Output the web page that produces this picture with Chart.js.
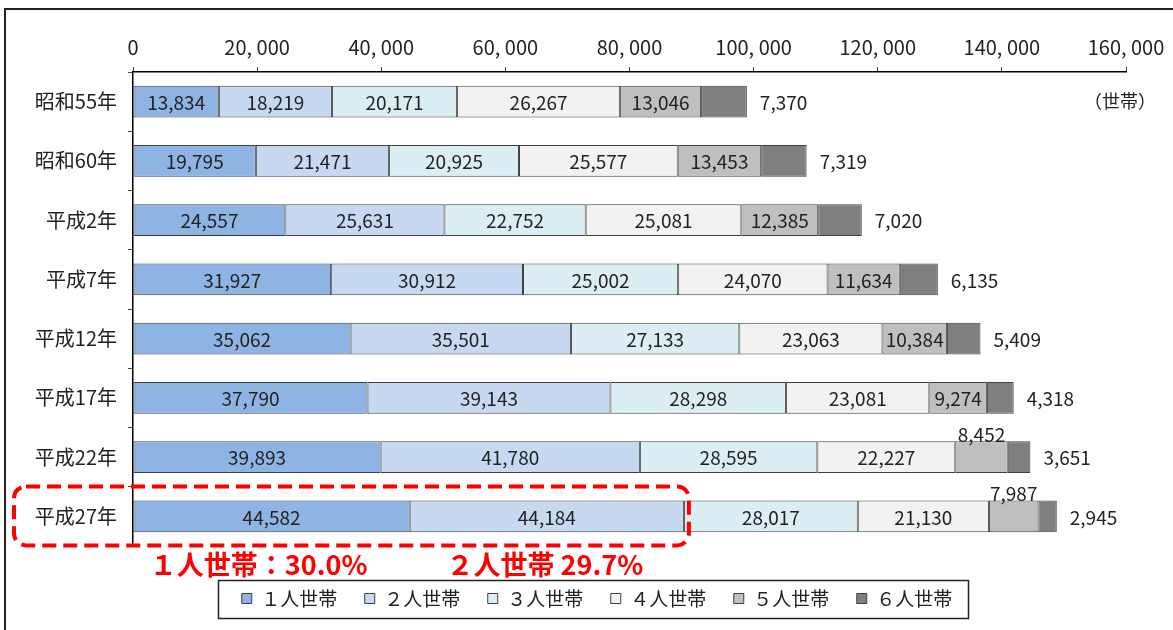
<!DOCTYPE html>
<html lang="ja">
<head>
<meta charset="utf-8">
<title>世帯人員別世帯数の推移</title>
<script src="https://cdn.jsdelivr.net/npm/chart.js@4.4.1/dist/chart.umd.min.js"></script>
<style>
  html, body { margin: 0; padding: 0; background: #fff; }
  #wrap { width: 1173px; height: 630px; }
</style>
</head>
<body>
<div id="wrap"><canvas id="householdChart" width="1173" height="630"></canvas></div>
<script>
// data
const years = ['昭和55年', '昭和60年', '平成2年', '平成7年', '平成12年', '平成17年', '平成22年', '平成27年'];
const seriesNames = ['１人世帯', '２人世帯', '３人世帯', '４人世帯', '５人世帯', '６人世帯'];
const onePerson = [13834, 19795, 24557, 31927, 35062, 37790, 39893, 44582];
const twoPerson = [18219, 21471, 25631, 30912, 35501, 39143, 41780, 44184];
const threePerson = [20171, 20925, 22752, 25002, 27133, 28298, 28595, 28017];
const fourPerson = [26267, 25577, 25081, 24070, 23063, 23081, 22227, 21130];
const fivePerson = [13046, 13453, 12385, 11634, 10384, 9274, 8452, 7987];
const sixPerson = [7370, 7319, 7020, 6135, 5409, 4318, 3651, 2945];
const xMax = 160000;
const xStep = 20000;
const unitLabel = '（世帯）';

const FONT = "'Noto Sans CJK JP', 'Noto Sans', sans-serif";
const colors = ['#8EB4E3', '#C6D9F1', '#DBEEF4', '#F2F2F2', '#BFBFBF', '#7F7F7F'];
const allSeries = [onePerson, twoPerson, threePerson, fourPerson, fivePerson, sixPerson];

function fmt(v) {
  return v.toLocaleString('en-US');
}

// value labels on / beside the bars
const barLabels = {
  id: 'barLabels',
  afterDatasetsDraw(chart) {
    const ctx = chart.ctx;
    ctx.save();
    ctx.font = '19px ' + FONT;
    ctx.fillStyle = '#222';
    const last = chart.data.datasets.length - 1;
    chart.data.datasets.forEach((ds, i) => {
      const meta = chart.getDatasetMeta(i);
      meta.data.forEach((bar, j) => {
        const v = ds.data[j];
        const p = bar.getProps(['x', 'y', 'base', 'height'], true);
        const text = fmt(v);
        if (i === last) {
          ctx.textAlign = 'left';
          ctx.textBaseline = 'middle';
          ctx.fillText(text, p.x + 13, p.y + 1);
        } else if (v < 9000) {
          // too narrow, put it above the segment
          ctx.textAlign = 'center';
          ctx.textBaseline = 'bottom';
          ctx.fillText(text, (p.x + p.base) / 2, p.y - p.height / 2 + 3);
        } else {
          ctx.textAlign = 'center';
          ctx.textBaseline = 'middle';
          ctx.fillText(text, (p.x + p.base) / 2, p.y + 1);
        }
      });
    });
    ctx.restore();
  }
};

// move the legend a bit right of the canvas centre, like the original
const legendShift = {
  id: 'legendShift',
  afterLayout(chart) {
    chart.legend.left += 34;
    chart.legend.right += 34;
  }
};

// frame, unit text, legend border and the red highlight
const decorations = {
  id: 'decorations',
  afterDraw(chart) {
    const ctx = chart.ctx;
    ctx.save();

    // outer frame (left and top edges)
    ctx.strokeStyle = '#222';
    ctx.lineWidth = 2;
    ctx.beginPath();
    ctx.moveTo(5, 630);
    ctx.lineTo(5, 9);
    ctx.lineTo(1173, 9);
    ctx.stroke();

    // unit
    const firstRow = chart.getDatasetMeta(0).data[0];
    ctx.font = '18px ' + FONT;
    ctx.fillStyle = '#222';
    ctx.textAlign = 'right';
    ctx.textBaseline = 'middle';
    ctx.fillText(unitLabel, 1156, firstRow.y);

    // legend border
    const boxes = chart.legend.legendHitBoxes;
    if (boxes && boxes.length) {
      const l = Math.min(...boxes.map(b => b.left)) - 24;
      const r = Math.max(...boxes.map(b => b.left + b.width)) + 15;
      const t = boxes[0].top - 9.5;
      const h = boxes[0].height + 19;
      ctx.strokeStyle = '#222';
      ctx.lineWidth = 1.5;
      ctx.strokeRect(Math.round(l) + 0.5, Math.round(t) + 0.5, Math.round(r - l), Math.round(h));
    }

    // red dashed box around the latest year's 1- and 2-person segments
    const lastIdx = years.length - 1;
    const seg1 = chart.getDatasetMeta(0).data[lastIdx];
    const seg2 = chart.getDatasetMeta(1).data[lastIdx];
    const top = seg2.y - 30;
    const bottom = seg2.y + 29;
    const left = 14;
    const right = seg2.x + 5;
    ctx.strokeStyle = '#FF0000';
    ctx.lineWidth = 4;
    ctx.setLineDash([14, 7]);
    ctx.beginPath();
    ctx.roundRect(left, top, right - left, bottom - top, 12);
    ctx.stroke();
    ctx.setLineDash([]);

    // share of total
    const total = allSeries.reduce((s, arr) => s + arr[lastIdx], 0);
    const share1 = (onePerson[lastIdx] / total * 100).toFixed(1);
    const share2 = (twoPerson[lastIdx] / total * 100).toFixed(1);
    ctx.font = 'bold 27px ' + FONT;
    ctx.fillStyle = '#FF0000';
    ctx.textAlign = 'center';
    ctx.textBaseline = 'middle';
    ctx.fillText('１人世帯：' + share1 + '%', (seg1.base + seg1.x) / 2 - 13, bottom + 19);
    ctx.fillText('２人世帯 ' + share2 + '%', (seg2.base + seg2.x) / 2 - 2, bottom + 19);

    ctx.restore();
  }
};

const ctx = document.getElementById('householdChart').getContext('2d');
const householdChart = new Chart(ctx, {
  type: 'bar',
  data: {
    labels: years,
    datasets: allSeries.map((arr, i) => ({
      label: seriesNames[i],
      data: arr,
      backgroundColor: colors[i],
      borderColor: '#404040',
      borderWidth: 1,
      borderSkipped: false,
      categoryPercentage: 1,
      barPercentage: 0.54
    }))
  },
  options: {
    indexAxis: 'y',
    responsive: false,
    animation: false,
    layout: {
      padding: { left: 0, right: 47, top: 12, bottom: 12 }
    },
    plugins: {
      legend: {
        position: 'bottom',
        title: {
          display: true,
          text: ' ',
          font: { size: 10 },
          padding: { top: 3.5, bottom: 0 }
        },
        labels: {
          font: { family: FONT, size: 19 },
          color: '#222',
          boxWidth: 10,
          boxHeight: 10,
          padding: 27.5
        }
      },
      tooltip: { enabled: false }
    },
    scales: {
      x: {
        position: 'top',
        stacked: true,
        min: 0,
        max: xMax,
        afterFit(scale) { scale.height = 60; },
        ticks: {
          stepSize: xStep,
          padding: 8,
          color: '#222',
          font: { family: FONT, size: 20 },
          callback: v => fmt(v).replace(/,/g, ', ')
        },
        grid: {
          drawOnChartArea: false,
          drawTicks: true,
          tickLength: 5,
          color: '#444'
        },
        border: { color: '#000', width: 1.5 }
      },
      y: {
        stacked: true,
        afterFit(scale) { scale.width = 133; },
        ticks: {
          padding: 11,
          color: '#222',
          font: { family: FONT, size: 20 }
        },
        grid: {
          offset: true,
          drawOnChartArea: false,
          drawTicks: true,
          tickLength: 5,
          color: '#444'
        },
        border: { color: '#000', width: 1.5 }
      }
    }
  },
  plugins: [legendShift, barLabels, decorations]
});
</script>
</body>
</html>
